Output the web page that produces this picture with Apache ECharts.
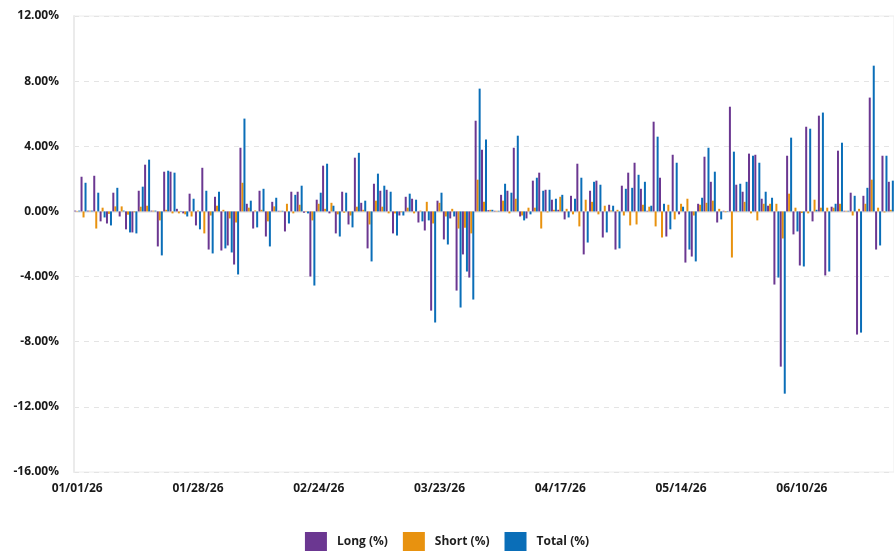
<!DOCTYPE html>
<html>
<head>
<meta charset="utf-8">
<title>Long / Short / Total</title>
<script src="https://cdn.jsdelivr.net/npm/echarts@6/dist/echarts.min.js"></script>
<style>
  html, body { margin: 0; padding: 0; background: #fff; }
  #chart { width: 894px; height: 551px; }
</style>
</head>
<body>
<div id="chart"></div>
<script>
// weekdays, 01/01/26 - 06/30/26
var dates = [
  "01/01/26","01/02/26","01/05/26","01/06/26","01/07/26","01/08/26","01/09/26","01/12/26","01/13/26","01/14/26","01/15/26","01/16/26","01/19/26","01/20/26","01/21/26","01/22/26","01/23/26","01/26/26","01/27/26","01/28/26","01/29/26","01/30/26",
  "02/02/26","02/03/26","02/04/26","02/05/26","02/06/26","02/09/26","02/10/26","02/11/26","02/12/26","02/13/26","02/16/26","02/17/26","02/18/26","02/19/26","02/20/26","02/23/26","02/24/26","02/25/26","02/26/26","02/27/26",
  "03/02/26","03/03/26","03/04/26","03/05/26","03/06/26","03/09/26","03/10/26","03/11/26","03/12/26","03/13/26","03/16/26","03/17/26","03/18/26","03/19/26","03/20/26","03/23/26","03/24/26","03/25/26","03/26/26","03/27/26","03/30/26","03/31/26",
  "04/01/26","04/02/26","04/03/26","04/06/26","04/07/26","04/08/26","04/09/26","04/10/26","04/13/26","04/14/26","04/15/26","04/16/26","04/17/26","04/20/26","04/21/26","04/22/26","04/23/26","04/24/26","04/27/26","04/28/26","04/29/26","04/30/26",
  "05/01/26","05/04/26","05/05/26","05/06/26","05/07/26","05/08/26","05/11/26","05/12/26","05/13/26","05/14/26","05/15/26","05/18/26","05/19/26","05/20/26","05/21/26","05/22/26","05/25/26","05/26/26","05/27/26","05/28/26","05/29/26",
  "06/01/26","06/02/26","06/03/26","06/04/26","06/05/26","06/08/26","06/09/26","06/10/26","06/11/26","06/12/26","06/15/26","06/16/26","06/17/26","06/18/26","06/19/26","06/22/26","06/23/26","06/24/26","06/25/26","06/26/26","06/29/26","06/30/26"
];

var longPct = [
  0.05, 2.13, 0.05, 2.19, -0.61, -0.74, 1.15, -0.31, -1.10, -1.29, 1.27, 2.87, 0.05, -2.15, 2.44, 2.44, 0.16, -0.12, 1.09, -0.86, 2.68, -2.34,
  0.90, -2.40, -2.09, -3.26, 3.91, 0.47, -1.05, 1.27, -1.54, 0.59, 0.04, -1.23, 1.21, 1.21, -0.08, -4.00, 0.72, 2.81, -0.12, -1.35,
  1.21, -0.80, 3.30, 0.53, -2.27, 1.70, 1.27, 1.33, -1.35, -0.25, 0.90, 0.78, -0.68, -1.17, -6.09, 0.66, -1.72, -0.43, -4.86, -2.64, -4.06, 5.57,
  3.79, 0.08, 0.04, 1.02, 1.27, 3.91, -0.31, -0.43, 1.89, 2.38, 1.33, 0.72, 0.10, -0.49, 0.96, 2.93, -2.64, 1.27, 1.89, -1.60, 0.41, -2.34,
  1.58, 2.38, 2.99, 1.39, 0.04, 5.51, 2.07, -1.54, 3.48, -0.18, -3.14, -2.77, 0.47, 3.36, 1.82, -0.68, 0.04, 6.43, 1.64, 1.21, 3.55,
  3.48, 0.78, 0.35, -4.49, -9.53, 3.42, -1.41, -3.32, 5.20, -0.61, 5.88, -3.93, 0.29, 3.73, 0.04, 1.15, -7.56, 0.96, 6.99, -2.34, 3.42, 1.82
];

var shortPct = [
  0.03, -0.37, 0.05, -1.05, 0.23, -0.15, 0.31, 0.31, -0.20, -0.05, 0.29, 0.35, 0.05, -0.55, 0.10, -0.12, -0.12, -0.18, -0.31, 0.06, -1.35, -0.25,
  0.35, 0.10, -0.43, -0.68, 1.76, 0.23, 0.06, 0.10, -0.61, 0.31, 0.04, 0.47, -0.12, 0.41, 0.03, -0.55, 0.47, 0.16, 0.53, -0.18,
  -0.08, -0.25, 0.29, 0.10, -0.80, 0.66, 0.29, -0.12, -0.12, -0.05, 0.23, -0.12, 0.05, 0.59, -0.74, 0.53, -0.31, 0.16, -1.05, -1.00, -1.35, 1.95,
  0.59, 0.10, 0.04, 0.66, -0.12, 0.78, -0.25, 0.23, 0.23, -1.05, -0.06, 0.10, 0.90, 0.16, -0.18, -0.92, 0.72, 0.59, -0.18, 0.35, 0.06, 0.10,
  -0.25, -0.86, -0.80, 0.41, 0.29, -0.92, -1.60, 0.41, -0.49, 0.47, 0.78, -0.25, 0.41, 0.53, 0.66, 0.16, -0.05, -2.83, 0.03, 0.59, -0.12,
  -0.55, 0.47, 0.47, 0.47, -1.66, 1.09, 0.23, -0.10, -0.12, 0.72, 0.23, 0.23, 0.23, 0.47, 0.04, -0.25, 0.16, 0.47, 1.95, 0.23, -0.06, 0.10
];

var totalPct = [
  0.05, 1.76, 0.05, 1.15, -0.37, -0.86, 1.45, 0.05, -1.29, -1.35, 1.52, 3.18, 0.05, -2.70, 2.50, 2.38, 0.03, -0.31, 0.78, -1.10, 1.27, -2.58,
  1.21, -2.27, -2.52, -3.87, 5.70, 0.66, -0.98, 1.39, -2.15, 0.84, 0.04, -0.74, 1.02, 1.58, -0.12, -4.55, 1.15, 2.93, 0.35, -1.54,
  1.15, -0.98, 3.60, 0.66, -3.07, 2.32, 1.58, 1.21, -1.48, -0.25, 1.09, 0.72, -0.61, -0.55, -6.82, 1.15, -2.03, -0.31, -5.90, -3.69, -5.41, 7.54,
  4.41, 0.10, 0.04, 1.70, 1.15, 4.65, -0.55, -0.18, 2.07, 1.27, 1.33, 0.78, 1.02, -0.37, 0.78, 2.07, -1.91, 1.82, 1.64, -1.29, 0.35, -2.27,
  1.39, 1.45, 2.25, 1.82, 0.35, 4.59, 0.47, -1.10, 2.99, 0.29, -2.34, -3.07, 0.84, 3.91, 2.44, -0.49, 0.03, 3.67, 1.70, 1.82, 3.42,
  2.99, 1.21, 0.84, -4.06, -11.19, 4.53, -1.23, -3.38, 5.08, 0.10, 6.07, -3.69, 0.47, 4.22, 0.04, 0.96, -7.44, 1.45, 8.95, -2.09, 3.42, 1.89
];

var seriesNames = ["Long (%)", "Short (%)", "Total (%)"];
var colors = ["#6b3791", "#e8920f", "#0a6eb8"];

var font = "'Open Sans', 'Noto Sans', sans-serif";
var chart = echarts.init(document.getElementById("chart"));

var option = {
  animation: false,
  color: colors,
  textStyle: { fontFamily: font },
  grid: {
    left: 74,
    right: -3,
    top: 16,
    bottom: 79,
    show: true,
    borderColor: "#ececec",
    borderWidth: 1
  },
  legend: {
    top: 532,
    left: "center",
    padding: 0,
    icon: "rect",
    itemWidth: 22,
    itemHeight: 20,
    itemGap: 15,
    textStyle: {
      fontFamily: font,
      fontSize: 12,
      fontWeight: "bold",
      color: "#1e1e1e",
      padding: [0, 0, 0, 5]
    },
    data: seriesNames
  },
  xAxis: {
    type: "category",
    data: dates,
    axisLine: { lineStyle: { color: "#ebebeb", width: 2 } },
    axisTick: { show: false },
    axisLabel: {
      interval: 18,
      margin: 11,
      fontFamily: font,
      fontSize: 12,
      fontWeight: "bold",
      color: "#1a1a1a"
    }
  },
  yAxis: {
    type: "value",
    min: -16,
    max: 12,
    interval: 4,
    axisLine: { show: true, lineStyle: { color: "#ebebeb", width: 2 } },
    axisTick: { show: false },
    splitLine: {
      lineStyle: { color: "#e4e4e4", type: [5, 5], width: 1 }
    },
    axisLabel: {
      margin: 15,
      fontFamily: font,
      fontSize: 12,
      fontWeight: "bold",
      color: "#1a1a1a",
      formatter: function (v) {
        return v.toFixed(2) + "%";
      }
    }
  },
  series: [
    { name: seriesNames[0], type: "bar", data: longPct, barWidth: 2, barGap: "0%" },
    { name: seriesNames[1], type: "bar", data: shortPct, barWidth: 2, barGap: "0%" },
    { name: seriesNames[2], type: "bar", data: totalPct, barWidth: 2, barGap: "0%" }
  ]
};

chart.setOption(option);
</script>
</body>
</html>
